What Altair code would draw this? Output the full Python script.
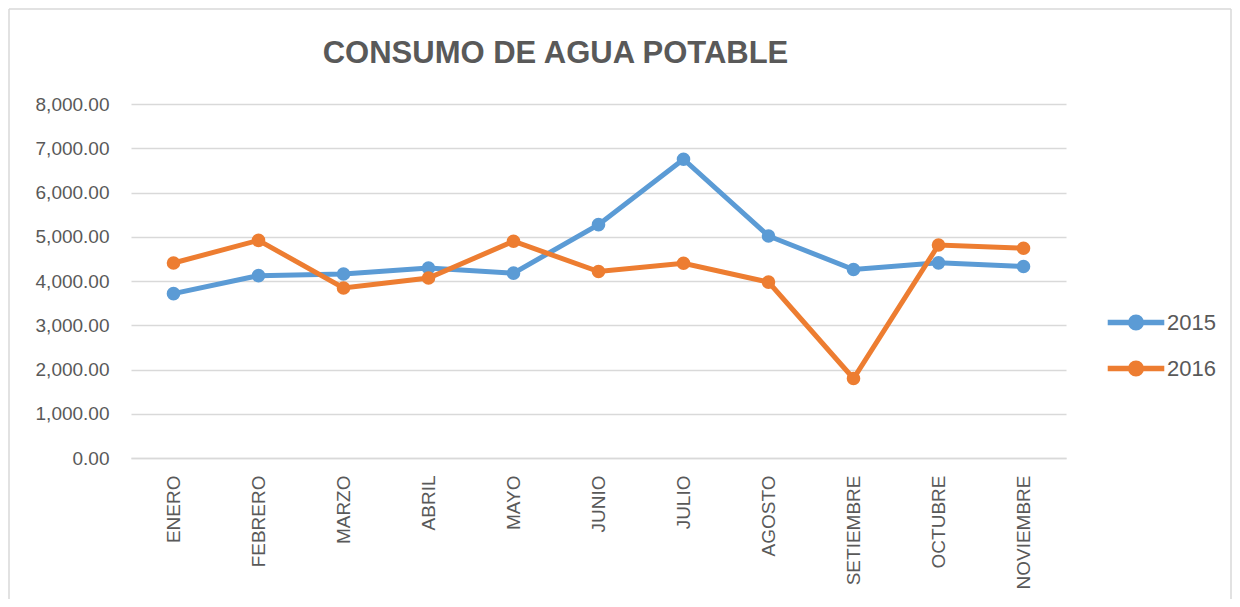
import altair as alt
import pandas as pd

months = ["ENERO", "FEBRERO", "MARZO", "ABRIL", "MAYO", "JUNIO", "JULIO",
          "AGOSTO", "SETIEMBRE", "OCTUBRE", "NOVIEMBRE"]
y2015 = [3714, 4121, 4158, 4294, 4177, 5273, 6752, 5018, 4260, 4410, 4327]
y2016 = [4407, 4919, 3842, 4068, 4898, 4215, 4402, 3975, 1797, 4815, 4740]
series = ["2015", "2016"]
colors = ["#5B9BD5", "#ED7D31"]
y_ticks = [0, 1000, 2000, 3000, 4000, 5000, 6000, 7000, 8000]

rows = []
for s, vals in zip(series, [y2015, y2016]):
    for m, v in zip(months, vals):
        rows.append({"mes": m, "serie": s, "valor": v})
df = pd.DataFrame(rows)

W, H = 935, 354
PL, PT = 123, 96
FONT = "Liberation Sans"
legend_path = "M-2,0L2,0M-0.37,0A0.37,0.37,0,1,1,0.37,0A0.37,0.37,0,1,1,-0.37,0Z"

lines = alt.Chart(df).mark_line(
    strokeWidth=5,
    point=alt.OverlayMarkDef(filled=True, size=185, opacity=1),
).encode(
    x=alt.X("mes:N", sort=months, title=None,
            scale=alt.Scale(type="point", padding=0.5),
            axis=alt.Axis(labelAngle=-90, labelPadding=17, ticks=False,
                          domainColor="#d9d9d9", domainWidth=1.5,
                          labelFont=FONT, labelFontSize=19, labelColor="#595959",
                          grid=False)),
    y=alt.Y("valor:Q", title=None,
            scale=alt.Scale(domain=[0, 8000], nice=False),
            axis=alt.Axis(values=y_ticks, format=",.2f", ticks=False, domain=False,
                          labelPadding=22, labelFont=FONT, labelFontSize=19,
                          labelColor="#595959", gridColor="#d9d9d9", gridWidth=1.5)),
    color=alt.Color("serie:N", scale=alt.Scale(domain=series, range=colors),
                    legend=alt.Legend(title=None, orient="none",
                                      legendX=988, legendY=201.5,
                                      symbolType=legend_path, symbolSize=800,
                                      symbolStrokeWidth=5.5, symbolOpacity=1,
                                      labelFont=FONT, labelFontSize=22,
                                      labelColor="#595959", labelOffset=14,
                                      rowPadding=12, padding=0)),
)

# light outer frame of the chart area (left, top, right edges)
frame_df = pd.DataFrame({"a": [0]})
FX0, FX1, FY0, FY1 = 9 - 131, 1231 - 131, 9 - 104, 600 - 104
left_edge = alt.Chart(frame_df).mark_rule(color="#d9d9d9", strokeWidth=1.5).encode(
    x=alt.value(FX0), y=alt.value(FY0), y2=alt.value(FY1))
right_edge = alt.Chart(frame_df).mark_rule(color="#d9d9d9", strokeWidth=1.5).encode(
    x=alt.value(FX1), y=alt.value(FY0), y2=alt.value(FY1))
top_edge = alt.Chart(frame_df).mark_rule(color="#d9d9d9", strokeWidth=1.5).encode(
    x=alt.value(FX0), x2=alt.value(FX1), y=alt.value(FY0))

chart = alt.layer(left_edge, right_edge, top_edge, lines).properties(
    width=W, height=H,
    autosize=alt.AutoSizeParams(type="none"),
    padding={"left": PL, "top": PT, "right": 1224 - PL - W, "bottom": 591 - PT - H},
    title=alt.TitleParams("CONSUMO DE AGUA POTABLE", font=FONT,
                          fontSize=31, fontWeight="bold", color="#595959",
                          anchor="middle", frame="group", dx=-43,
                          baseline="bottom", offset=-93),
).configure(background="white").configure_view(stroke="transparent", strokeWidth=0)

chart.save("out.html", embed_options={"renderer": "svg", "actions": False})
